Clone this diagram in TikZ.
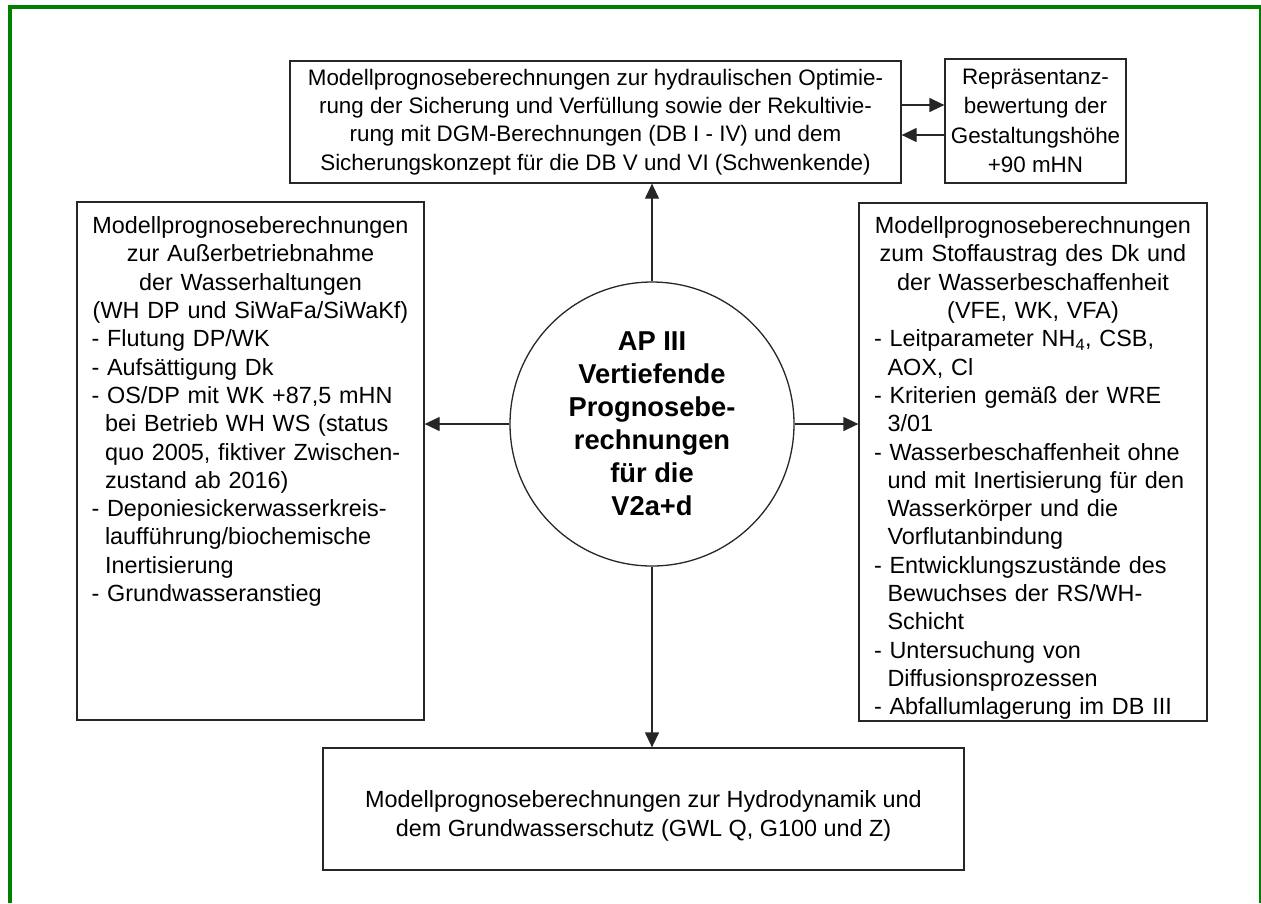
\documentclass[tikz,border=0pt]{standalone}
\usepackage{fontspec}
\setmainfont{Liberation Sans}
\usetikzlibrary{arrows.meta}
\definecolor{framegreen}{RGB}{0,128,0}
\newlength\blockw
\setlength\blockw{318pt}
\newcommand\lft[1]{\makebox[\blockw][l]{#1}}
\newcommand\ind{\hspace*{13.5pt}}
\hyphenpenalty=10000
\begin{document}
\begin{tikzpicture}[x=1pt,y=-1pt,
  box/.style={draw=black!85, line width=1.3pt, rectangle, inner sep=0pt},
  txt/.style={font=\fontsize{23.4}{28.3}\selectfont},
  toptxt/.style={font=\fontsize{22.4}{28.4}\selectfont},
  arr/.style={draw=black!85, line width=1.3pt, -{Triangle[length=15pt,width=14pt]}},
  listtxt/.style={txt, text width=318pt, align=center, anchor=north, inner sep=0pt}
]
\useasboundingbox (0,0) rectangle (1261,903);
% frame
\draw[framegreen, line width=4pt] (10,903) -- (10,7) -- (1261,7);
\draw[framegreen, line width=1.5pt] (1260.2,5) -- (1260.2,903);

% top box
\node[box, toptxt, minimum width=611pt, minimum height=122pt, align=center] (top) at (595.5,122)
 {Modellprognoseberechnungen zur hydraulischen Optimie-\\
  rung der Sicherung und Verfüllung sowie der Rekultivie-\\
  rung mit DGM-Berechnungen (DB I - IV) und dem\\
  Sicherungskonzept für die DB V und VI (Schwenkende)};
% small box
\node[box, font=\fontsize{22.4}{29.5}\selectfont, minimum width=181pt, minimum height=124pt, align=center] (small) at (1035.5,121)
 {Repräsentanz-\\ bewertung der\\ Gestaltungshöhe\\ +90 mHN};

% left box
\node[box, minimum width=347pt, minimum height=518pt] (left) at (250.5,461) {};
\node[listtxt] (ltxt) at (250.5,216.5)
 {Modellprognoseberechnungen\\
  zur Außerbetriebnahme\\
  der Wasserhaltungen\\
  (WH DP und SiWaFa/SiWaKf)\\
  \lft{- Flutung DP/WK}\\
  \lft{- Aufsättigung Dk}\\
  \lft{- OS/DP mit WK +87,5 mHN}\\
  \lft{\ind bei Betrieb WH WS (status}\\
  \lft{\ind quo 2005, fiktiver Zwischen-}\\
  \lft{\ind zustand ab 2016)}\\
  \lft{- Deponiesickerwasserkreis-}\\
  \lft{\ind laufführung/biochemische}\\
  \lft{\ind Inertisierung}\\
  \lft{- Grundwasseranstieg}};

% right box
\node[box, minimum width=348pt, minimum height=518pt] (right) at (1033,462) {};
\node[listtxt] (rtxt) at (1033,216.5)
 {Modellprognoseberechnungen\\
  zum Stoffaustrag des Dk und\\
  der Wasserbeschaffenheit\\
  (VFE, WK, VFA)\\
  \lft{- Leitparameter NH\textsubscript{4}, CSB,}\\
  \lft{\ind AOX, Cl}\\
  \lft{- Kriterien gemäß der WRE}\\
  \lft{\ind 3/01}\\
  \lft{- Wasserbeschaffenheit ohne}\\
  \lft{\ind und mit Inertisierung für den}\\
  \lft{\ind Wasserkörper und die}\\
  \lft{\ind Vorflutanbindung}\\
  \lft{- Entwicklungszustände des}\\
  \lft{\ind Bewuchses der RS/WH-}\\
  \lft{\ind Schicht}\\
  \lft{- Untersuchung von}\\
  \lft{\ind Diffusionsprozessen}\\
  \lft{- Abfallumlagerung im DB III}};

% bottom box
\node[box, minimum width=641pt, minimum height=122pt] (bottom) at (643.5,809) {};
\node[txt, align=center, inner sep=0pt] (btxt) at (643.5,816)
 {Modellprognoseberechnungen zur Hydrodynamik und\\
  dem Grundwasserschutz (GWL Q, G100 und Z)};

% centre circle
\node[draw=black!85, line width=1.3pt, circle, minimum size=284pt, inner sep=0pt, align=center,
      font=\fontsize{27.3}{33}\selectfont\bfseries] (c) at (652,424)
 {AP III\\ Vertiefende\\ Prognosebe-\\ rechnungen\\ für die\\ V2a+d};

% connectors
\draw[arr] (c.north) -- (c.north |- top.south);
\draw[arr] (c.west) -- (c.west -| left.east);
\draw[arr] (c.east) -- (c.east -| right.west);
\draw[arr] (c.south) -- (c.south |- bottom.north);
\draw[arr] ([yshift=17pt]top.east) -- ([yshift=17pt]top.east -| small.west);
\draw[arr] ([yshift=-13pt]top.east -| small.west) -- ([yshift=-13pt]top.east);
\end{tikzpicture}
\end{document}
